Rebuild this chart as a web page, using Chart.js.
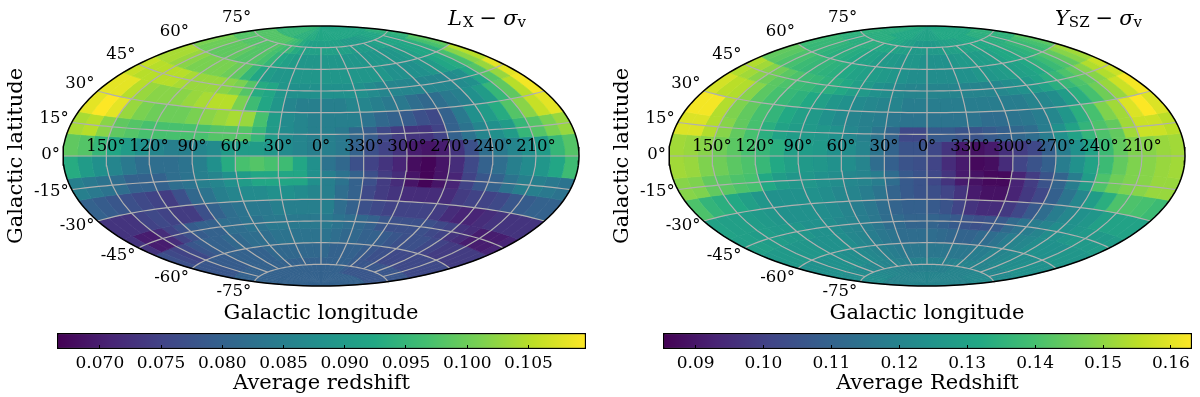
<!DOCTYPE html>
<html>
<head>
<meta charset="utf-8">
<title>Average redshift sky maps</title>
<script src="https://cdn.jsdelivr.net/npm/chart.js@4"></script>
<style>
	html, body { margin: 0; padding: 0; background: #fff; }
	body { position: relative; width: 1200px; height: 397px; overflow: hidden; }
	canvas { position: absolute; }
</style>
</head>
<body>
<canvas id="mapLx" width="600" height="330" style="left:0;top:0"></canvas>
<canvas id="mapYsz" width="594" height="330" style="left:606px;top:0"></canvas>
<canvas id="barLx" width="600" height="72" style="left:0;top:325px"></canvas>
<canvas id="barYsz" width="594" height="72" style="left:606px;top:325px"></canvas>
<script>
// cell centres in degrees, plotted longitude runs left to right
const lonCentres = [-175,-165,-155,-145,-135,-125,-115,-105,-95,-85,-75,-65,-55,-45,-35,-25,-15,-5,5,15,25,35,45,55,65,75,85,95,105,115,125,135,145,155,165,175];
const latCentres = [85,75,65,55,45,35,25,15,5,-5,-15,-25,-35,-45,-55,-65,-75,-85];

const lonTicks = [-150,-120,-90,-60,-30,0,30,60,90,120,150];
const lonTickLabels = ['150°','120°','90°','60°','30°','0°','330°','300°','270°','240°','210°'];
const latTicks = [75,60,45,30,15,0,-15,-30,-45,-60,-75];
const latTickLabels = ['75°','60°','45°','30°','15°','0°','-15°','-30°','-45°','-60°','-75°'];

const lxBarRange = [0.0665, 0.1097];
const lxBarTicks = [0.070,0.075,0.080,0.085,0.090,0.095,0.100,0.105];
const yszBarRange = [0.0852, 0.1631];
const yszBarTicks = [0.09,0.10,0.11,0.12,0.13,0.14,0.15,0.16];

// average redshift, LX - sigma_v, one row per latCentres entry
const lxRows = [
	[.095,.095,.095,.095,.095,.095,.095,.095,.095,.094,.094,.094,.094,.093,.093,.093,.092,.092,.092,.092,.092,.092,.092,.092,.092,.092,.092,.092,.092,.092,.092,.092,.092,.092,.093,.093],
	[.098,.098,.098,.098,.098,.098,.098,.098,.098,.098,.097,.096,.095,.093,.092,.091,.091,.091,.091,.091,.091,.091,.091,.090,.090,.090,.090,.090,.091,.091,.092,.092,.092,.093,.094,.095],
	[.101,.100,.100,.099,.099,.099,.099,.098,.098,.098,.097,.095,.092,.091,.090,.089,.089,.089,.089,.089,.089,.089,.089,.089,.089,.089,.089,.089,.089,.090,.091,.092,.092,.094,.097,.099],
	[.104,.104,.103,.102,.101,.101,.101,.101,.100,.099,.095,.092,.090,.089,.089,.089,.089,.089,.089,.089,.089,.089,.089,.089,.089,.088,.088,.088,.088,.089,.090,.092,.093,.097,.102,.105],
	[.106,.105,.105,.105,.105,.104,.103,.103,.103,.102,.101,.098,.093,.092,.089,.088,.088,.088,.088,.088,.088,.088,.087,.086,.086,.086,.086,.086,.086,.086,.087,.088,.092,.098,.103,.108],
	[.108,.108,.105,.103,.102,.102,.102,.103,.104,.105,.105,.101,.096,.092,.089,.086,.085,.085,.085,.085,.086,.086,.085,.084,.084,.082,.081,.082,.084,.085,.088,.090,.095,.099,.105,.109],
	[.108,.110,.108,.103,.101,.100,.100,.100,.101,.102,.103,.104,.103,.097,.090,.087,.086,.085,.085,.085,.085,.083,.081,.080,.079,.077,.076,.080,.084,.088,.090,.093,.098,.102,.106,.108],
	[.104,.105,.102,.099,.098,.097,.097,.097,.097,.097,.098,.098,.098,.095,.090,.087,.086,.085,.085,.084,.081,.079,.076,.074,.073,.073,.075,.080,.083,.086,.088,.090,.095,.098,.101,.103],
	[.099,.098,.095,.092,.090,.088,.086,.085,.085,.086,.087,.090,.090,.090,.089,.087,.086,.085,.085,.084,.080,.077,.075,.073,.070,.069,.070,.073,.077,.082,.084,.086,.088,.090,.095,.098],
	[.093,.090,.088,.086,.084,.082,.082,.082,.083,.085,.088,.093,.097,.098,.097,.096,.092,.088,.083,.081,.077,.075,.073,.071,.068,.067,.069,.072,.076,.080,.082,.085,.087,.089,.092,.096],
	[.085,.084,.083,.082,.080,.080,.080,.082,.083,.085,.086,.088,.090,.092,.092,.092,.092,.088,.085,.083,.080,.077,.074,.072,.069,.067,.069,.071,.075,.078,.080,.083,.085,.085,.084,.083],
	[.080,.079,.078,.077,.076,.075,.074,.077,.081,.083,.085,.086,.087,.087,.088,.088,.087,.086,.085,.082,.080,.076,.074,.073,.072,.072,.072,.072,.074,.075,.075,.076,.078,.079,.080,.080],
	[.073,.073,.073,.075,.076,.075,.074,.074,.077,.080,.082,.083,.084,.084,.085,.085,.085,.085,.085,.082,.080,.077,.076,.075,.075,.075,.075,.074,.072,.071,.071,.072,.073,.073,.073,.073],
	[.073,.070,.070,.072,.075,.077,.079,.080,.080,.082,.082,.083,.083,.084,.084,.084,.084,.084,.084,.083,.082,.081,.080,.078,.077,.077,.077,.077,.076,.075,.073,.072,.070,.070,.070,.071],
	[.077,.076,.075,.076,.078,.079,.080,.080,.081,.081,.082,.082,.082,.083,.083,.083,.083,.083,.083,.082,.081,.081,.080,.080,.079,.078,.077,.077,.077,.076,.075,.074,.074,.074,.074,.074],
	[.078,.078,.078,.079,.079,.079,.080,.080,.080,.080,.080,.081,.081,.081,.081,.081,.081,.081,.081,.080,.080,.080,.080,.079,.078,.077,.077,.076,.076,.076,.076,.076,.076,.076,.076,.076],
	[.080,.080,.080,.080,.080,.080,.080,.080,.080,.080,.080,.080,.080,.080,.080,.080,.080,.080,.080,.080,.080,.080,.080,.079,.078,.078,.078,.078,.078,.078,.078,.078,.078,.078,.078,.078],
	[.080,.080,.080,.080,.080,.080,.080,.080,.080,.080,.080,.080,.080,.080,.080,.080,.080,.080,.080,.080,.080,.080,.080,.080,.080,.080,.080,.080,.080,.080,.080,.080,.080,.080,.080,.080]
];

// average redshift, YSZ - sigma_v
const yszRows = [
	[.134,.134,.134,.134,.134,.133,.132,.132,.132,.132,.132,.132,.132,.131,.130,.130,.130,.130,.130,.130,.130,.131,.132,.132,.132,.132,.132,.132,.132,.132,.132,.132,.132,.132,.134,.134],
	[.135,.135,.134,.134,.134,.134,.134,.134,.134,.132,.132,.132,.130,.129,.129,.127,.127,.127,.127,.127,.128,.129,.129,.130,.130,.130,.132,.132,.132,.132,.134,.134,.134,.135,.135,.136],
	[.138,.137,.137,.136,.135,.134,.134,.133,.132,.130,.130,.128,.127,.127,.126,.126,.126,.124,.124,.124,.124,.126,.127,.127,.128,.128,.129,.130,.132,.132,.134,.135,.137,.138,.140,.143],
	[.144,.143,.141,.140,.138,.137,.136,.135,.134,.132,.130,.129,.128,.127,.126,.124,.123,.123,.123,.123,.123,.124,.124,.126,.126,.127,.128,.129,.130,.132,.135,.138,.141,.144,.149,.152],
	[.154,.152,.149,.146,.143,.141,.138,.137,.135,.134,.132,.129,.127,.124,.123,.121,.120,.120,.120,.120,.120,.120,.120,.120,.121,.123,.124,.127,.130,.134,.137,.141,.144,.149,.154,.157],
	[.158,.155,.154,.149,.143,.140,.137,.135,.132,.129,.126,.124,.122,.121,.120,.120,.118,.118,.118,.118,.118,.118,.118,.118,.118,.118,.120,.121,.123,.128,.134,.140,.146,.151,.157,.162],
	[.162,.162,.154,.148,.144,.140,.136,.132,.129,.127,.124,.122,.120,.119,.118,.116,.115,.115,.115,.115,.115,.115,.113,.113,.115,.116,.118,.121,.126,.134,.140,.148,.152,.159,.163,.159],
	[.159,.159,.154,.149,.144,.140,.134,.130,.128,.127,.126,.124,.121,.119,.115,.110,.102,.102,.107,.107,.105,.105,.107,.109,.111,.113,.118,.124,.130,.136,.141,.144,.152,.157,.157,.155],
	[.152,.151,.149,.146,.143,.140,.137,.134,.129,.128,.127,.124,.123,.120,.115,.110,.105,.105,.102,.097,.091,.089,.091,.096,.099,.102,.109,.118,.124,.130,.138,.144,.148,.149,.151,.152],
	[.152,.151,.148,.146,.143,.141,.137,.132,.129,.127,.126,.124,.123,.120,.113,.109,.105,.104,.101,.095,.091,.087,.088,.095,.101,.105,.109,.118,.124,.130,.138,.144,.148,.149,.151,.152],
	[.149,.148,.144,.143,.141,.140,.132,.128,.126,.126,.124,.123,.121,.120,.118,.113,.107,.105,.102,.097,.091,.089,.087,.087,.093,.099,.105,.110,.118,.128,.141,.146,.148,.149,.151,.151],
	[.141,.136,.134,.132,.129,.126,.124,.124,.124,.124,.123,.121,.120,.118,.115,.110,.107,.105,.104,.101,.097,.091,.089,.089,.093,.098,.102,.109,.115,.121,.128,.134,.141,.141,.140,.138],
	[.130,.129,.129,.128,.127,.126,.124,.124,.124,.123,.122,.120,.118,.116,.113,.110,.109,.109,.107,.105,.101,.097,.095,.095,.098,.102,.107,.113,.118,.121,.124,.126,.129,.130,.130,.130],
	[.129,.129,.128,.128,.127,.127,.126,.124,.124,.123,.121,.120,.118,.116,.113,.112,.110,.110,.110,.109,.107,.105,.104,.105,.107,.112,.115,.118,.120,.123,.124,.126,.127,.127,.127,.128],
	[.127,.127,.127,.126,.126,.126,.124,.124,.124,.123,.121,.120,.118,.116,.115,.113,.113,.113,.113,.112,.111,.110,.110,.112,.113,.115,.118,.120,.121,.123,.124,.124,.124,.126,.126,.126],
	[.124,.124,.124,.124,.124,.124,.124,.123,.123,.122,.121,.120,.119,.118,.117,.116,.116,.116,.116,.116,.116,.116,.116,.116,.118,.118,.120,.120,.121,.122,.123,.123,.124,.124,.124,.124],
	[.123,.123,.123,.123,.122,.122,.122,.121,.121,.121,.120,.120,.120,.119,.119,.119,.119,.119,.119,.119,.119,.119,.119,.120,.120,.120,.120,.120,.120,.121,.121,.121,.121,.122,.122,.123],
	[.120,.120,.120,.120,.120,.120,.120,.120,.120,.120,.120,.120,.120,.120,.120,.120,.120,.120,.120,.120,.120,.120,.120,.120,.120,.120,.120,.120,.120,.120,.120,.120,.120,.120,.120,.120]
];

const viridisStops = ['#440154','#482475','#414487','#355f8d','#2a788e','#21918c','#22a884','#44bf70','#7ad151','#bddf26','#fde725'];

const serif = "'DejaVu Serif'";
const gridColor = '#b0b0b0';

function viridis(f)
{
	f = Math.min(1, Math.max(0, f));
	const pos = f * (viridisStops.length - 1);
	const i = Math.min(Math.floor(pos), viridisStops.length - 2);
	const t = pos - i;
	const a = viridisStops[i], b = viridisStops[i + 1];
	let out = [];
	for(let c = 1; c < 7; c += 2) {
		const va = parseInt(a.substr(c, 2), 16);
		const vb = parseInt(b.substr(c, 2), 16);
		out.push(Math.round(va + (vb - va) * t));
	}
	return 'rgb(' + out.join(',') + ')';
}

function aitoff(lonDeg, latDeg)
{
	const lam = lonDeg * Math.PI / 180;
	const phi = latDeg * Math.PI / 180;
	const alpha = Math.acos(Math.cos(phi) * Math.cos(lam / 2));
	const sinc = alpha < 1e-6 ? 1 : Math.sin(alpha) / alpha;
	return { x: 2 * Math.cos(phi) * Math.sin(lam / 2) / sinc, y: Math.sin(phi) / sinc };
}

function line_points(lon0, lat0, lon1, lat1, steps)
{
	let pts = [];
	for(let i = 0; i <= steps; ++i) {
		pts.push(aitoff(lon0 + (lon1 - lon0) * i / steps, lat0 + (lat1 - lat0) * i / steps));
	}
	return pts;
}

function cell_dataset(lon, lat, value, range)
{
	const l0 = lon - 5, l1 = lon + 5, b0 = lat - 5, b1 = lat + 5;
	const pts = [].concat(
		line_points(l0, b0, l1, b0, 3),
		line_points(l1, b0, l1, b1, 3),
		line_points(l1, b1, l0, b1, 3),
		line_points(l0, b1, l0, b0, 3)
	);
	const color = viridis((value - range[0]) / (range[1] - range[0]));
	return {
		data: pts,
		showLine: true,
		fill: 'shape',
		backgroundColor: color,
		borderColor: color,
		borderWidth: 0.7,
		pointRadius: 0,
		tension: 0
	};
}

function grid_dataset(pts)
{
	return { data: pts, showLine: true, fill: false, borderColor: gridColor, borderWidth: 1.2, pointRadius: 0, tension: 0 };
}

function build_datasets(rows, range)
{
	let sets = [];

	// the first dataset is drawn last, so outline and grid go in front
	sets.push({
		data: line_points(180, 90, 180, -90, 90).concat(line_points(-180, -90, -180, 90, 90)),
		showLine: true, fill: false, borderColor: '#000', borderWidth: 1.5, pointRadius: 0, tension: 0, clip: false
	});
	for(let lon = -150; lon <= 150; lon += 30) {
		sets.push(grid_dataset(line_points(lon, -75, lon, 75, 30)));
	}
	for(let lat = -75; lat <= 75; lat += 15) {
		sets.push(grid_dataset(line_points(-180, lat, 180, lat, 72)));
	}

	for(let r = 0; r < latCentres.length; ++r) {
		for(let c = 0; c < lonCentres.length; ++c) {
			sets.push(cell_dataset(lonCentres[c], latCentres[r], rows[r][c], range));
		}
	}
	return sets;
}

const skyLabels = {
	id: 'skyLabels',
	afterDraw(chart, args, opts) {
		const ctx = chart.ctx;
		const sx = chart.scales.x, sy = chart.scales.y;
		ctx.save();
		ctx.fillStyle = '#000';
		ctx.font = '16.5px ' + serif;

		ctx.textAlign = 'center';
		ctx.textBaseline = 'alphabetic';
		for(let i = 0; i < lonTicks.length; ++i) {
			const p = aitoff(lonTicks[i], 0);
			ctx.fillText(lonTickLabels[i], sx.getPixelForValue(p.x), sy.getPixelForValue(0) - 5);
		}

		ctx.textAlign = 'right';
		ctx.textBaseline = 'middle';
		for(let i = 0; i < latTicks.length; ++i) {
			const p = aitoff(-180, latTicks[i]);
			const dy = -1 - 12 * Math.sin(latTicks[i] * Math.PI / 180);
			ctx.fillText(latTickLabels[i], sx.getPixelForValue(p.x) - 3, sy.getPixelForValue(p.y) + dy);
		}

		// panel title, pieces of math text set one after the other
		ctx.textAlign = 'left';
		ctx.textBaseline = 'alphabetic';
		let x = opts.titleX;
		for(const part of opts.title) {
			ctx.font = part.font + ' ' + serif;
			ctx.fillText(part.text, x, part.sub ? 27 : 25);
			x += ctx.measureText(part.text).width + (part.gap || 0);
		}
		ctx.restore();
	}
};

function map_create(canvasId, rows, range, title, titleX, rightPad)
{
	return new Chart(canvasId, {
		type: 'scatter',
		data: { datasets: build_datasets(rows, range) },
		plugins: [skyLabels],
		options: {
			responsive: false,
			animation: false,
			events: [],
			layout: { padding: { top: 26, right: rightPad, bottom: 0, left: 0 } },
			scales: {
				x: {
					min: -Math.PI, max: Math.PI,
					ticks: { display: false },
					grid: { display: false },
					border: { display: false },
					title: { display: true, text: 'Galactic longitude', color: '#000', font: { family: serif, size: 21 }, padding: { top: 0, bottom: 4 } },
					afterFit(scale) { scale.height = 44; }
				},
				y: {
					min: -Math.PI / 2, max: Math.PI / 2,
					ticks: { display: false },
					grid: { display: false },
					border: { display: false },
					title: { display: true, text: 'Galactic latitude', color: '#000', font: { family: serif, size: 21 }, padding: { top: 4.4, bottom: 0 } },
					afterFit(scale) { scale.width = 63; }
				}
			},
			plugins: {
				legend: { display: false },
				tooltip: { enabled: false },
				skyLabels: { title: title, titleX: titleX }
			}
		}
	});
}

function bar_create(canvasId, range, tickValues, decimals, label, rightPad)
{
	return new Chart(canvasId, {
		type: 'bar',
		data: {
			labels: [''],
			datasets: [{
				data: [[range[0], range[1]]],
				backgroundColor(c) {
					const area = c.chart.chartArea;
					if(!area) { return '#000'; }
					const grad = c.chart.ctx.createLinearGradient(area.left, 0, area.right, 0);
					viridisStops.forEach((col, i) => grad.addColorStop(i / (viridisStops.length - 1), col));
					return grad;
				},
				borderColor: '#000',
				borderWidth: 1.5,
				borderSkipped: false,
				barPercentage: 1,
				categoryPercentage: 1
			}]
		},
		options: {
			indexAxis: 'y',
			responsive: false,
			animation: false,
			events: [],
			layout: { padding: { top: 8, right: rightPad, bottom: 0, left: 57 } },
			scales: {
				x: {
					min: range[0], max: range[1],
					afterBuildTicks(scale) { scale.ticks = tickValues.map(v => ({ value: v })); },
					ticks: {
						color: '#000',
						padding: 8,
						maxRotation: 0,
						autoSkip: false,
						font: { family: serif, size: 17 },
						callback(v) { return Number(v).toFixed(decimals); }
					},
					grid: { drawOnChartArea: false, drawTicks: true, tickLength: -4, color: '#000', z: 1 },
					border: { display: false },
					title: { display: true, text: label, color: '#000', font: { family: serif, size: 21 }, padding: { top: 0, bottom: 0.4 } },
					afterFit(scale) { scale.height = 48; }
				},
				y: { display: false }
			},
			plugins: { legend: { display: false }, tooltip: { enabled: false } }
		}
	});
}

map_create('mapLx', lxRows, lxBarRange, [
	{ text: 'L', font: 'italic 21px', gap: 1 },
	{ text: 'X', font: '15px', sub: true, gap: 6 },
	{ text: '−', font: '21px', gap: 6 },
	{ text: 'σ', font: 'italic 21px', gap: 0 },
	{ text: 'v', font: '15px', sub: true }
], 448, 21);

map_create('mapYsz', yszRows, yszBarRange, [
	{ text: 'Y', font: 'italic 21px', gap: 0 },
	{ text: 'SZ', font: '15px', sub: true, gap: 6 },
	{ text: '−', font: '21px', gap: 6 },
	{ text: 'σ', font: 'italic 21px', gap: 0 },
	{ text: 'v', font: '15px', sub: true }
], 449, 15);

bar_create('barLx', lxBarRange, lxBarTicks, 3, 'Average redshift', 14);
bar_create('barYsz', yszBarRange, yszBarTicks, 2, 'Average Redshift', 8);
</script>
</body>
</html>
